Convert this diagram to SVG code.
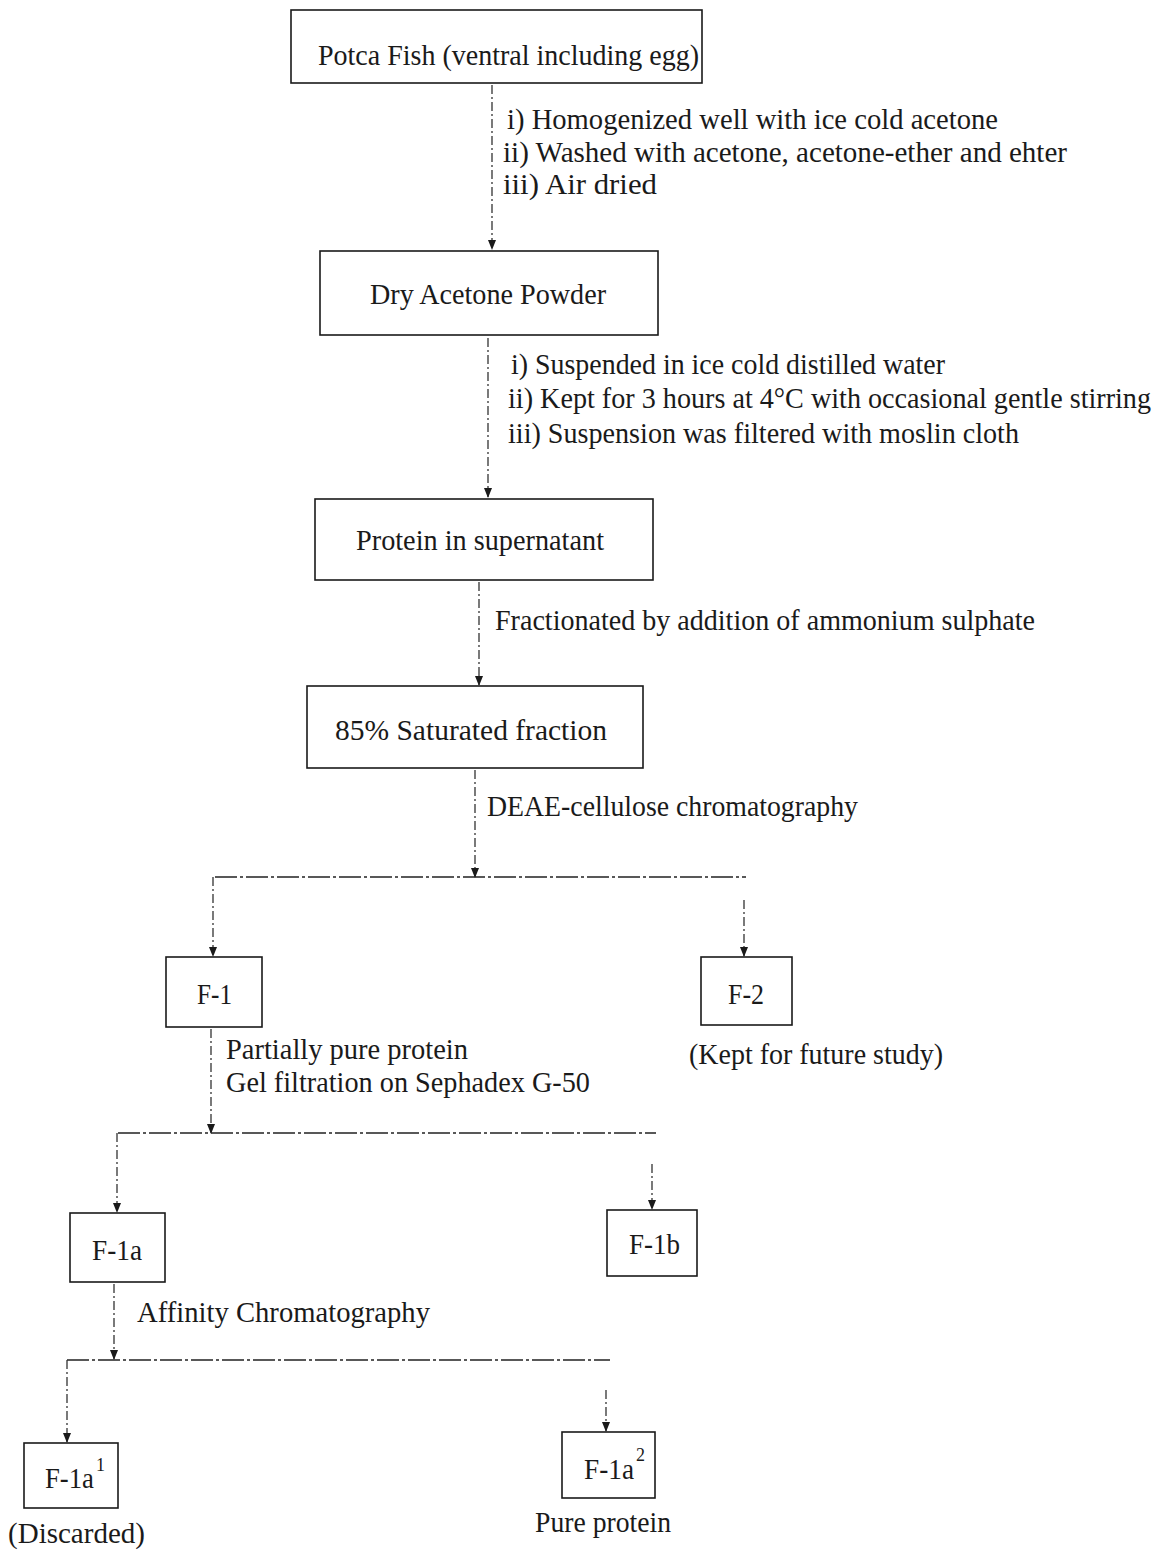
<svg xmlns="http://www.w3.org/2000/svg" width="1168" height="1550" viewBox="0 0 1168 1550">
<style>
text{font-family:"Liberation Serif","Times New Roman",serif;font-size:29px;fill:#1a1a1a}
.box{fill:none;stroke:#1a1a1a;stroke-width:1.6}
.conn{fill:none;stroke:#333;stroke-width:1.3;stroke-dasharray:9 3 2 3}
.hl{fill:none;stroke:#222;stroke-width:1.5;stroke-dasharray:22 3 3 3}
.sup{font-size:18px}
</style>
<defs>
<marker id="ah" viewBox="0 0 10 10" refX="9" refY="5" markerWidth="11" markerHeight="10" markerUnits="userSpaceOnUse" orient="auto">
<path d="M0,1 L10,5 L0,9 Z" fill="#1a1a1a"/>
</marker>
</defs>
<rect width="1168" height="1550" fill="#fff"/>

<g id="connectors">
<line class="conn" x1="492" y1="85" x2="492" y2="249" marker-end="url(#ah)"/>
<line class="conn" x1="488" y1="338" x2="488" y2="497" marker-end="url(#ah)"/>
<line class="conn" x1="479" y1="582" x2="479" y2="685" marker-end="url(#ah)"/>
<line class="conn" x1="475" y1="770" x2="475" y2="877" marker-end="url(#ah)"/>
<line class="hl" x1="215" y1="877" x2="746" y2="877"/>
<line class="conn" x1="213" y1="877" x2="213" y2="956" marker-end="url(#ah)"/>
<line class="conn" x1="744" y1="900" x2="744" y2="956" marker-end="url(#ah)"/>
<line class="conn" x1="211" y1="1029" x2="211" y2="1133" marker-end="url(#ah)"/>
<line class="hl" x1="118" y1="1133" x2="656" y2="1133"/>
<line class="conn" x1="117" y1="1133" x2="117" y2="1212" marker-end="url(#ah)"/>
<line class="conn" x1="652" y1="1164" x2="652" y2="1209" marker-end="url(#ah)"/>
<line class="conn" x1="114" y1="1284" x2="114" y2="1359" marker-end="url(#ah)"/>
<line class="hl" x1="67" y1="1360" x2="610" y2="1360"/>
<line class="conn" x1="67" y1="1360" x2="67" y2="1442" marker-end="url(#ah)"/>
<line class="conn" x1="606" y1="1390" x2="606" y2="1431" marker-end="url(#ah)"/>
</g>

<g id="labels">
<text x="507" y="129" textLength="491" lengthAdjust="spacingAndGlyphs">i) Homogenized well with ice cold acetone</text>
<text x="503" y="162" textLength="564" lengthAdjust="spacingAndGlyphs">ii) Washed with acetone, acetone-ether and ehter</text>
<text x="503" y="194" textLength="154" lengthAdjust="spacingAndGlyphs">iii) Air dried</text>
<text x="511" y="374" textLength="434" lengthAdjust="spacingAndGlyphs">i) Suspended in ice cold distilled water</text>
<text x="508" y="408" textLength="643" lengthAdjust="spacingAndGlyphs">ii) Kept for 3 hours at 4°C with occasional gentle stirring</text>
<text x="508" y="443" textLength="511" lengthAdjust="spacingAndGlyphs">iii) Suspension was filtered with moslin cloth</text>
<text x="495" y="630" textLength="540" lengthAdjust="spacingAndGlyphs">Fractionated by addition of ammonium sulphate</text>
<text x="487" y="816" textLength="371" lengthAdjust="spacingAndGlyphs">DEAE-cellulose chromatography</text>
<text x="226" y="1059" textLength="242" lengthAdjust="spacingAndGlyphs">Partially pure protein</text>
<text x="226" y="1092" textLength="364" lengthAdjust="spacingAndGlyphs">Gel filtration on Sephadex G-50</text>
<text x="689" y="1064" textLength="254" lengthAdjust="spacingAndGlyphs">(Kept for future study)</text>
<text x="137" y="1322" textLength="293" lengthAdjust="spacingAndGlyphs">Affinity Chromatography</text>
<text x="8" y="1543" textLength="137" lengthAdjust="spacingAndGlyphs">(Discarded)</text>
<text x="535" y="1532" textLength="136" lengthAdjust="spacingAndGlyphs">Pure protein</text>
</g>

<g id="n-potca">
<rect class="box" x="291" y="10" width="411" height="73"/>
<text x="318" y="65" textLength="381" lengthAdjust="spacingAndGlyphs">Potca Fish (ventral including egg)</text>
</g>
<g id="n-dry">
<rect class="box" x="320" y="251" width="338" height="84"/>
<text x="370" y="304" textLength="236" lengthAdjust="spacingAndGlyphs">Dry Acetone Powder</text>
</g>
<g id="n-protein">
<rect class="box" x="315" y="499" width="338" height="81"/>
<text x="356" y="550" textLength="248" lengthAdjust="spacingAndGlyphs">Protein in supernatant</text>
</g>
<g id="n-85">
<rect class="box" x="307" y="686" width="336" height="82"/>
<text x="335" y="740" textLength="272" lengthAdjust="spacingAndGlyphs">85% Saturated fraction</text>
</g>
<g id="n-f1">
<rect class="box" x="166" y="957" width="96" height="70"/>
<text x="197" y="1004" textLength="35" lengthAdjust="spacingAndGlyphs">F-1</text>
</g>
<g id="n-f2">
<rect class="box" x="701" y="957" width="91" height="68"/>
<text x="728" y="1004" textLength="36" lengthAdjust="spacingAndGlyphs">F-2</text>
</g>
<g id="n-f1a">
<rect class="box" x="70" y="1213" width="95" height="69"/>
<text x="92" y="1260" textLength="50" lengthAdjust="spacingAndGlyphs">F-1a</text>
</g>
<g id="n-f1b">
<rect class="box" x="607" y="1210" width="90" height="66"/>
<text x="629" y="1254" textLength="51" lengthAdjust="spacingAndGlyphs">F-1b</text>
</g>
<g id="n-f1a1">
<rect class="box" x="24" y="1443" width="94" height="65"/>
<text x="45" y="1488" textLength="49" lengthAdjust="spacingAndGlyphs">F-1a</text>
<text class="sup" x="96" y="1471">1</text>
</g>
<g id="n-f1a2">
<rect class="box" x="562" y="1432" width="93" height="66"/>
<text x="584" y="1479" textLength="50" lengthAdjust="spacingAndGlyphs">F-1a</text>
<text class="sup" x="636" y="1461">2</text>
</g>
</svg>
